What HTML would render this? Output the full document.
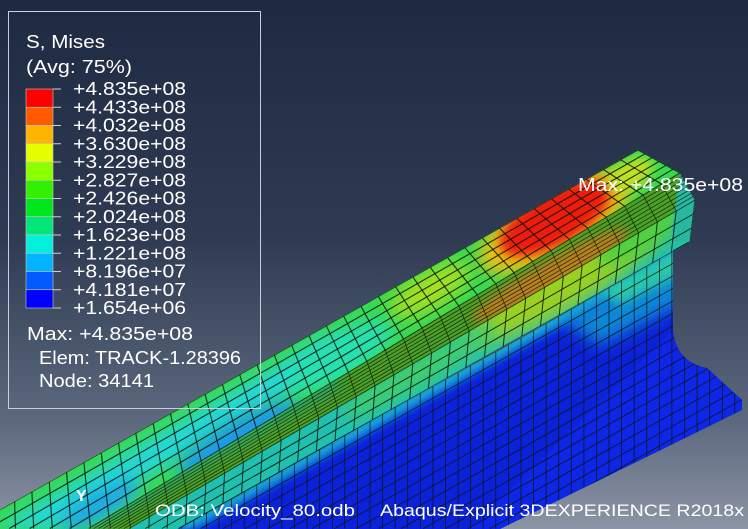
<!DOCTYPE html>
<html><head><meta charset="utf-8">
<style>
html,body{margin:0;padding:0;background:#1f2b44;width:748px;height:529px;overflow:hidden;}
svg{display:block;}
text{font-family:"Liberation Sans","DejaVu Sans",sans-serif;fill:#fff;}
</style></head>
<body>
<svg id="scene" width="748" height="529" viewBox="0 0 748 529">
<defs>
<linearGradient id="bg" x1="0" y1="0" x2="0" y2="1">
<stop offset="0" stop-color="#1e2a42"/><stop offset="0.45" stop-color="#2f3b52"/><stop offset="0.8" stop-color="#5d697e"/><stop offset="1" stop-color="#8c95a5"/>
</linearGradient>
<filter id="blur8" x="-50%" y="-50%" width="200%" height="200%"><feGaussianBlur stdDeviation="8"/></filter>
<filter id="blur5" x="-50%" y="-50%" width="200%" height="200%"><feGaussianBlur stdDeviation="5"/></filter>
<filter id="blur3" x="-50%" y="-50%" width="200%" height="200%"><feGaussianBlur stdDeviation="3"/></filter>
<clipPath id="clipTop"><polygon points="-20,521 638,150 680,173 -20,594"/></clipPath>
<clipPath id="clipRound"><polygon points="-20,594 680,173 695,200 -20,615"/></clipPath>
<clipPath id="clipSide"><polygon points="-20,615 695,200 690,242 -20,640"/></clipPath>
<clipPath id="clipWeb"><path d="M172,529 L500,350 L690,242 L673,242 L673,330 Q676,362 707,368 L742,400 L742,410 L500,529 Z"/></clipPath>
</defs>
<rect width="748" height="529" fill="url(#bg)"/>

<g id="rail">
<g clip-path="url(#clipWeb)">
<rect x="160" y="230" width="588" height="299" fill="#0c22d8"/>
<polygon points="180,529 690,242 690,256 200,529" fill="#1070e0" filter="url(#blur3)"/>
<polygon points="176,529 690,242 690,248 186,529" fill="#20c8c8" filter="url(#blur3)"/>
<polygon points="560,320 690,246 690,300 600,345" fill="#10a0d8" filter="url(#blur8)" opacity="0.8"/>
<polygon points="600,290 690,244 690,270 620,305" fill="#30d8a0" filter="url(#blur5)" opacity="0.8"/>
<path d="M673,330 Q676,362 707,368 L742,400 L742,410 L500,529 L470,529 Z" fill="#0e26e6"/>
</g>
<g clip-path="url(#clipSide)">
<rect x="0" y="200" width="695" height="329" fill="#20c0b0"/>
<ellipse cx="560" cy="285" rx="110" ry="25" transform="rotate(-30 560 285)" fill="#9ad020" filter="url(#blur8)"/>
<ellipse cx="640" cy="235" rx="50" ry="18" transform="rotate(-30 640 235)" fill="#50d040" filter="url(#blur8)"/>
<ellipse cx="420" cy="370" rx="90" ry="15" transform="rotate(-30 420 370)" fill="#40cc70" filter="url(#blur8)"/>
</g>
<g clip-path="url(#clipRound)">
<rect x="0" y="173" width="695" height="356" fill="#4aa028"/>
<ellipse cx="550" cy="275" rx="90" ry="14" transform="rotate(-30 550 275)" fill="#b88020" filter="url(#blur5)"/>
<polygon points="60,529 330,375 345,385 100,529" fill="#30a860" filter="url(#blur5)"/>
</g>
<g clip-path="url(#clipTop)">
<rect x="0" y="150" width="680" height="379" fill="#38d850"/>
<polygon points="0,525 330,335 360,350 60,529 0,529" fill="#20d8d8" filter="url(#blur8)"/>
<ellipse cx="240" cy="440" rx="70" ry="20" transform="rotate(-30 240 440)" fill="#1a98e8" filter="url(#blur8)"/>
<ellipse cx="100" cy="505" rx="45" ry="14" transform="rotate(-30 100 505)" fill="#1aa8e8" filter="url(#blur8)"/>
<ellipse cx="340" cy="355" rx="60" ry="22" transform="rotate(-30 340 355)" fill="#28e0b0" filter="url(#blur8)"/>
<ellipse cx="430" cy="290" rx="45" ry="18" transform="rotate(-30 430 290)" fill="#a0e020" filter="url(#blur8)"/>
<ellipse cx="555" cy="222" rx="85" ry="34" transform="rotate(-30 555 222)" fill="#f0c010" filter="url(#blur8)"/>
<ellipse cx="555" cy="218" rx="62" ry="26" transform="rotate(-30 555 218)" fill="#ee1a0c" filter="url(#blur5)"/>
<ellipse cx="630" cy="175" rx="25" ry="14" transform="rotate(-30 630 175)" fill="#c0e020" filter="url(#blur5)"/>
</g>
<polygon points="680,173 695,200 690,242 673,242 672,230" fill="#28b8a0"/>
<g id="mesh" stroke="#0a1406" stroke-opacity="0.85" fill="none"></g>
</g>

<g>
<rect x="8.5" y="11.5" width="252" height="397" fill="none" stroke="#c9ced8" stroke-width="1"/>
<text x="26" y="48" font-size="18" textLength="79" lengthAdjust="spacingAndGlyphs">S, Mises</text>
<text x="26" y="73" font-size="18" textLength="106" lengthAdjust="spacingAndGlyphs">(Avg: 75%)</text>
<g id="colorbar"></g>
<text x="27" y="340" font-size="18" textLength="166" lengthAdjust="spacingAndGlyphs">Max: +4.835e+08</text>
<text x="39" y="364" font-size="18" textLength="202" lengthAdjust="spacingAndGlyphs">Elem: TRACK-1.28396</text>
<text x="39" y="387" font-size="18" textLength="115" lengthAdjust="spacingAndGlyphs">Node: 34141</text>
</g>

<text x="578" y="191" font-size="18" textLength="165" lengthAdjust="spacingAndGlyphs">Max: +4.835e+08</text>
<text x="76" y="501" font-size="16" font-weight="bold">Y</text>
<text x="155" y="516" font-size="17" textLength="200" lengthAdjust="spacingAndGlyphs">ODB: Velocity_80.odb</text>
<text x="380" y="516" font-size="17" textLength="364" lengthAdjust="spacingAndGlyphs">Abaqus/Explicit 3DEXPERIENCE R2018x</text>
</svg>
<script>
const legendValues = ["+4.835e+08","+4.433e+08","+4.032e+08","+3.630e+08","+3.229e+08","+2.827e+08","+2.426e+08","+2.024e+08","+1.623e+08","+1.221e+08","+8.196e+07","+4.181e+07","+1.654e+06"];
const bandColors = ["#ff0000","#ff5a00","#ffb400","#e6ff00","#8cff00","#32f000","#00e61e","#00e678","#00f0dc","#00b4ff","#005aff","#0000ff"];

const NS="http://www.w3.org/2000/svg";
const bar=document.getElementById('colorbar');
const top0=89, bh=18.25;
bandColors.forEach((c,i)=>{
  const r=document.createElementNS(NS,'rect');
  r.setAttribute('x',26);r.setAttribute('y',top0+i*bh);r.setAttribute('width',27);r.setAttribute('height',bh);
  r.setAttribute('fill',c);r.setAttribute('stroke','#c8c8c8');r.setAttribute('stroke-width','0.6');
  
  
  bar.appendChild(r);
});
legendValues.forEach((v,i)=>{
  const y=top0+i*bh;
  const l=document.createElementNS(NS,'line');
  l.setAttribute('x1',53);l.setAttribute('x2',61);l.setAttribute('y1',y);l.setAttribute('y2',y);
  l.setAttribute('stroke','#d0d0d0');l.setAttribute('stroke-width','1');
  
  
  bar.appendChild(l);
  const t=document.createElementNS(NS,'text');
  t.setAttribute('x',73);t.setAttribute('y',y+6);t.setAttribute('font-size','18');
  t.setAttribute('textLength','113');t.setAttribute('lengthAdjust','spacingAndGlyphs');
  t.textContent=v;
  
  
  bar.appendChild(t);
});

const mesh=document.getElementById('mesh');
function lerp(a,b,t){return [a[0]+(b[0]-a[0])*t,a[1]+(b[1]-a[1])*t];}
function clipSeg(p,q){
  let t0=0,t1=1;const dx=q[0]-p[0],dy=q[1]-p[1];
  const P=[-dx,dx,-dy,dy],Q=[p[0]-0,747.5-p[0],p[1]-0,528.5-p[1]];
  for(let i=0;i<4;i++){
    if(P[i]===0){if(Q[i]<0)return null;}
    else{const r=Q[i]/P[i];if(P[i]<0){if(r>t1)return null;if(r>t0)t0=r;}else{if(r<t0)return null;if(r<t1)t1=r;}}
  }
  return [[p[0]+t0*dx,p[1]+t0*dy],[p[0]+t1*dx,p[1]+t1*dy]];
}
function line(p,q,w,clip){
  const s=clipSeg(p,q); if(!s) return;
  const l=document.createElementNS(NS,'line');
  l.setAttribute('x1',s[0][0].toFixed(1));l.setAttribute('y1',s[0][1].toFixed(1));
  l.setAttribute('x2',s[1][0].toFixed(1));l.setAttribute('y2',s[1][1].toFixed(1));
  l.setAttribute('stroke-width',w);
  if(clip) l.setAttribute('clip-path',clip);
  
  
  mesh.appendChild(l);
}
const A=[[-20,521],[638,150]], B=[[-20,594],[680,173]], C=[[-20,615],[695,200]], D=[[-20,640],[690,242]];
function surf(E1,E2,nT,nL,w,clip){
  for(let i=0;i<=nT;i++){const t=i/nT;line(lerp(E1[0],E1[1],t),lerp(E2[0],E2[1],t),w,clip);}
  for(let j=0;j<=nL;j++){const u=j/nL;line(lerp(E1[0],E2[0],u),lerp(E1[1],E2[1],u),w,clip);}
}
surf(A,B,38,6,1.1,'url(#clipTop)');
surf(B,C,38,8,0.7,'url(#clipRound)');
surf(C,D,38,3,1.0,'url(#clipSide)');
const W1=[[-20,640],[760,202]], W2=[[-20,940],[760,502]];
surf(W1,W2,62,24,0.8,'url(#clipWeb)');
</script>
</body></html>
